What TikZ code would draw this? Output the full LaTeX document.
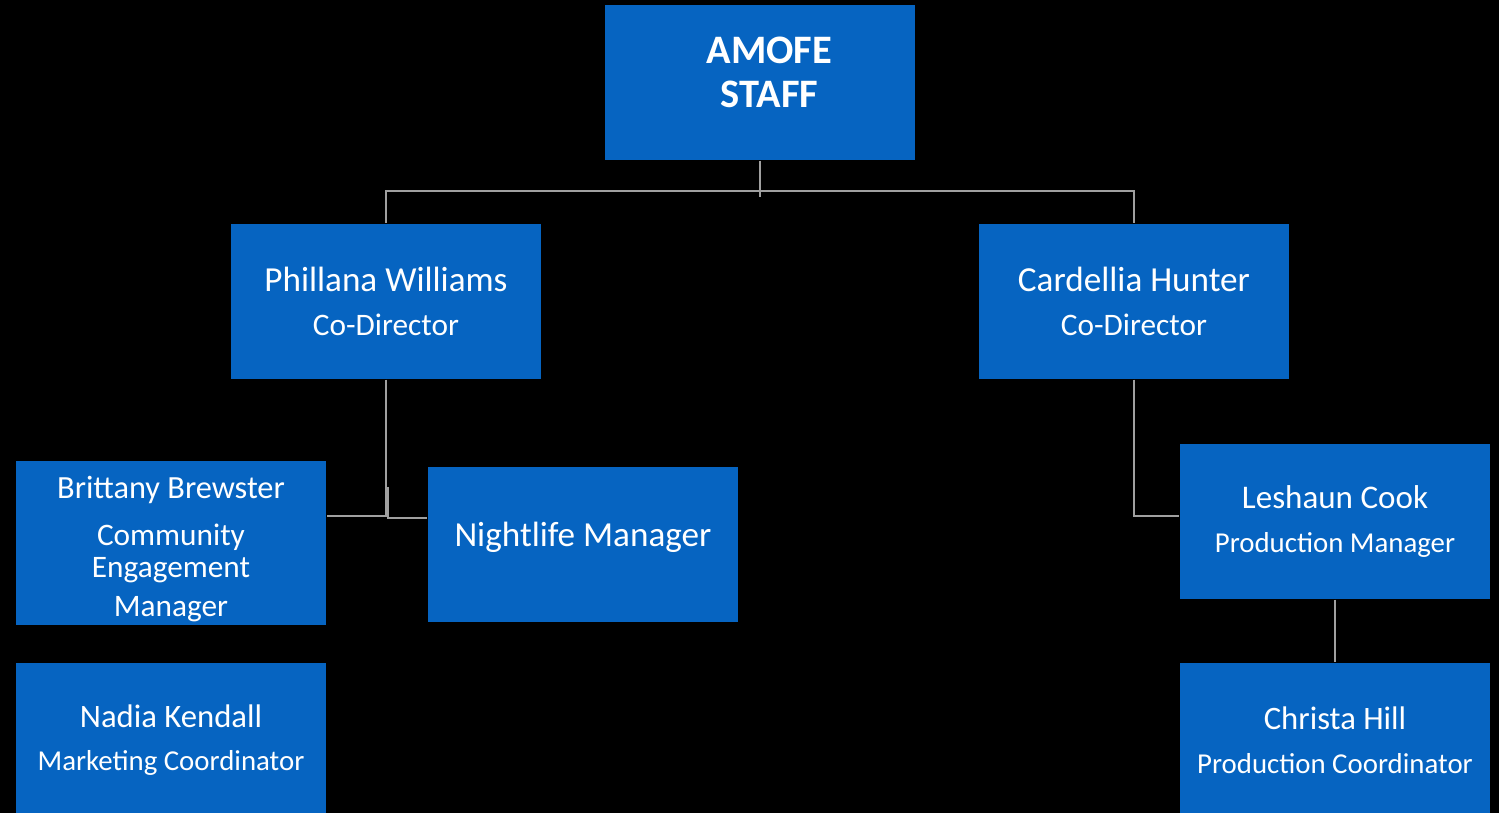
\documentclass[tikz,border=0pt]{standalone}
\usepackage{fontspec}
\setmainfont{Carlito}
\definecolor{amblue}{RGB}{6,100,193}
\definecolor{linegray}{RGB}{160,160,160}
\tikzset{
	box/.style={fill=amblue, text=white, minimum width=3.1cm, minimum height=1.55cm, inner sep=0pt, align=center},
	conn/.style={draw=linegray, line width=0.6pt}
}
\newcommand{\nm}{\fontsize{10}{12.8}\selectfont}
\newcommand{\ttl}{\fontsize{8.9}{11}\selectfont}
\newcommand{\sttl}{\fontsize{8.2}{10}\selectfont}

\begin{document}
\begin{tikzpicture}[x=0.01cm, y=-0.01cm]
	\fill[black] (0,0) rectangle (1499,813);
	\useasboundingbox (0,0) rectangle (1499,813);
	%\draw[help lines] (0,0) grid (1499,813);

	\node[box, text depth=0.21cm, font=\bfseries\fontsize{11.5}{12.5}\selectfont] (staff) at (760,82.5) {\hspace*{0.19cm}AMOFE\\\hspace*{0.19cm}STAFF};
	\node[box] (phil) at (386,301.5) {\nm Phillana Williams\\[0.5pt]\ttl Co-Director};
	\node[box] (card) at (1134,301.5) {\nm Cardellia Hunter\\[0.5pt]\ttl Co-Director};

	\node[box, minimum height=1.64cm, text height=1.52cm] (britt) at (171,543) {\fontsize{9.2}{12}\selectfont Brittany Brewster\\[1.4pt]\ttl Community\\[-3pt]\ttl Engagement\\[-0.85pt]\ttl Manager};
	\node[box, text depth=0.2cm] (night) at (583,544.5) {\fontsize{10}{12}\selectfont Nightlife Manager};
	\node[box] (nadia) at (171,740.5) {\fontsize{9.3}{12}\selectfont Nadia Kendall\\[0.2pt]\sttl Marketing Coordinator};

	\node[box] (lesh) at (1335,521.5) {\fontsize{9.4}{12}\selectfont Leshaun Cook\\[0.5pt]\sttl Production Manager};
	\node[box] (chris) at (1335,740.5) {\fontsize{9.3}{12}\selectfont Christa Hill\\[0.4pt]\sttl Production Coordinator};

	\coordinate (bus) at (760,191);
	\coordinate (lj) at (386,516);
	\coordinate (nj) at (388,487);

	\draw[conn] (staff.south) -- (bus) -- ++(0,6);
	\draw[conn] (phil.north) |- (bus) -| (card.north);
	\draw[conn] (phil.south) -- (lj) -- (lj -| britt.east);
	\draw[conn] (nj) |- (night.west |- 0,518);
	\draw[conn] (card.south) |- (lesh.west |- 0,516);
	\draw[conn] (lesh.south) -- (chris.north);
\end{tikzpicture}
\end{document}
